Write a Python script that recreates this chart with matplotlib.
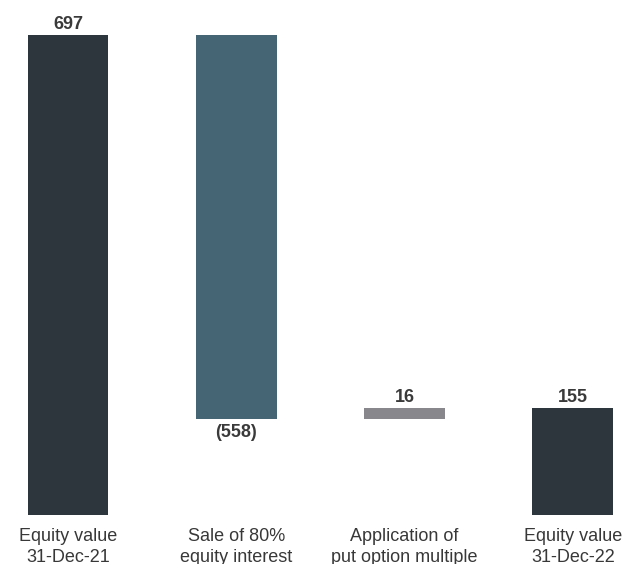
import matplotlib
matplotlib.use("Agg")
import matplotlib.pyplot as plt

categories = ["Equity value\n31-Dec-21", "Sale of 80%\nequity interest",
              "Application of\nput option multiple", "Equity value\n31-Dec-22"]
values = [697, -558, 16, 155]
kinds = ["total", "delta", "delta", "total"]
value_labels = ["697", "(558)", "16", "155"]
colors = ["#2d353d", "#456474", "#88878c", "#2d353d"]

plt.rcParams['font.family'] = ['Liberation Sans', 'DejaVu Sans']

fig = plt.figure(figsize=(6.24, 5.64), dpi=100)
ax = fig.add_axes([0, 49/564, 1, 515/564])

running = 0
for i, (v, k, c, lab) in enumerate(zip(values, kinds, colors, value_labels)):
    if k == "total":
        bottom, height = 0, v
        running = v
    else:
        if v >= 0:
            bottom, height = running, v
        else:
            bottom, height = running + v, -v
        running += v
    ax.bar(i, height, bottom=bottom, width=0.48, color=c)
    if v >= 0:
        ax.annotate(lab, (i, bottom + height), xytext=(0, 4.5), textcoords="offset points",
                    ha="center", va="baseline", fontsize=13, fontweight="bold", color="#3a3a3a")
    else:
        ax.annotate(lab, (i, bottom), xytext=(0, -3.5), textcoords="offset points",
                    ha="center", va="top", fontsize=13, fontweight="bold", color="#3a3a3a")

ax.set_xlim(-0.404, 3.304)
ax.set_ylim(0, 747.8)
ax.set_xticks(range(len(categories)))
ax.set_xticklabels(categories, fontsize=13, color="#383838", linespacing=1.27)
ax.tick_params(axis="x", length=0, pad=9.5)
ax.set_yticks([])
for s in ax.spines.values():
    s.set_visible(False)

fig.savefig("out.png", dpi=100)
